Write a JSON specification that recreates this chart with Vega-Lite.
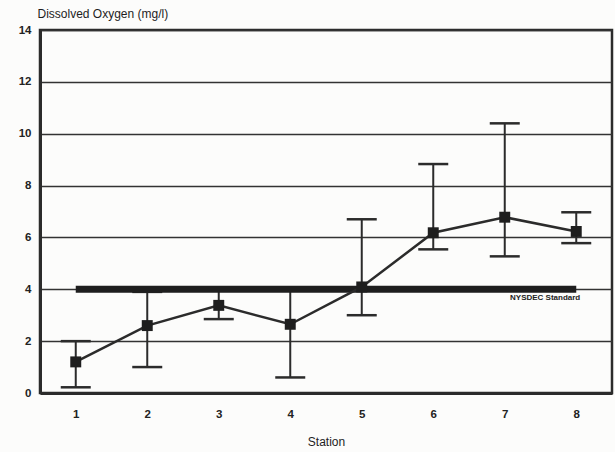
{
  "$schema": "https://vega.github.io/schema/vega-lite/v6.json",
  "width": 572,
  "height": 363,
  "autosize": "none",
  "padding": {"left": 40, "top": 30, "right": 3, "bottom": 59},
  "background": "#fcfcfb",
  "config": {
    "view": {"stroke": "#2b2b2b", "strokeWidth": 2.5},
    "font": "Liberation Sans",
    "axis": {
      "labelFont": "Liberation Sans",
      "labelFontWeight": "bold",
      "labelFontSize": 11.5,
      "labelColor": "#222",
      "titleFont": "Liberation Sans",
      "titleFontWeight": "normal",
      "titleFontSize": 12,
      "titleColor": "#1e1e1e",
      "domainColor": "#2b2b2b",
      "domainWidth": 3,
      "ticks": false
    }
  },
  "datasets": {
    "stations": [
      {"station": "1", "mean": 1.2, "low": 0.22, "high": 2.0},
      {"station": "2", "mean": 2.6, "low": 1.0, "high": 3.9},
      {"station": "3", "mean": 3.38, "low": 2.85, "high": 4.0},
      {"station": "4", "mean": 2.65, "low": 0.6, "high": 4.0},
      {"station": "5", "mean": 4.09, "low": 3.0, "high": 6.7},
      {"station": "6", "mean": 6.18, "low": 5.54, "high": 8.83},
      {"station": "7", "mean": 6.78, "low": 5.27, "high": 10.4},
      {"station": "8", "mean": 6.23, "low": 5.78, "high": 6.97}
    ],
    "standard": [
      {"from": "1", "to": "8", "level": 4, "label": "NYSDEC Standard"}
    ]
  },
  "encoding": {
    "x": {
      "field": "station",
      "type": "ordinal",
      "scale": {"type": "point", "padding": 0.5},
      "axis": {
        "title": "Station",
        "labelAngle": 0,
        "labelPadding": 15,
        "titlePadding": 17,
        "grid": false
      }
    }
  },
  "layer": [
    {
      "data": {"name": "stations"},
      "mark": {"type": "rule", "strokeWidth": 2, "color": "#2b2b2b"},
      "encoding": {
        "y": {
          "field": "low",
          "type": "quantitative",
          "scale": {"domain": [0, 14], "nice": false},
          "axis": {
            "title": "Dissolved Oxygen (mg/l)",
            "values": [0, 2, 4, 6, 8, 10, 12, 14],
            "grid": true,
            "gridColor": "#333",
            "gridWidth": 1.3,
            "gridOpacity": 1,
            "labelPadding": 9,
            "titleAngle": 0,
            "titleAlign": "left",
            "titleBaseline": "alphabetic",
            "titleX": -3,
            "titleY": -13
          }
        },
        "y2": {"field": "high"}
      }
    },
    {
      "data": {"name": "stations"},
      "mark": {"type": "tick", "size": 30, "thickness": 2.5, "color": "#2b2b2b", "opacity": 1, "orient": "horizontal"},
      "encoding": {"y": {"field": "low", "type": "quantitative"}}
    },
    {
      "data": {"name": "stations"},
      "mark": {"type": "tick", "size": 30, "thickness": 2.5, "color": "#2b2b2b", "opacity": 1, "orient": "horizontal"},
      "encoding": {"y": {"field": "high", "type": "quantitative"}}
    },
    {
      "data": {"name": "standard"},
      "mark": {"type": "rule", "strokeWidth": 7, "color": "#1e1e1e"},
      "encoding": {
        "x": {"field": "from", "type": "ordinal"},
        "x2": {"field": "to"},
        "y": {"field": "level", "type": "quantitative"}
      }
    },
    {
      "data": {"name": "standard"},
      "mark": {"type": "text", "align": "right", "baseline": "top", "dx": 4, "dy": 5, "fontSize": 8, "fontWeight": "bold", "color": "#222"},
      "encoding": {
        "x": {"field": "to", "type": "ordinal"},
        "y": {"field": "level", "type": "quantitative"},
        "text": {"field": "label"}
      }
    },
    {
      "data": {"name": "stations"},
      "mark": {"type": "line", "strokeWidth": 2.5, "color": "#2b2b2b"},
      "encoding": {"y": {"field": "mean", "type": "quantitative"}}
    },
    {
      "data": {"name": "stations"},
      "mark": {"type": "point", "shape": "square", "filled": true, "size": 120, "color": "#1e1e1e", "opacity": 1},
      "encoding": {"y": {"field": "mean", "type": "quantitative"}}
    }
  ]
}
